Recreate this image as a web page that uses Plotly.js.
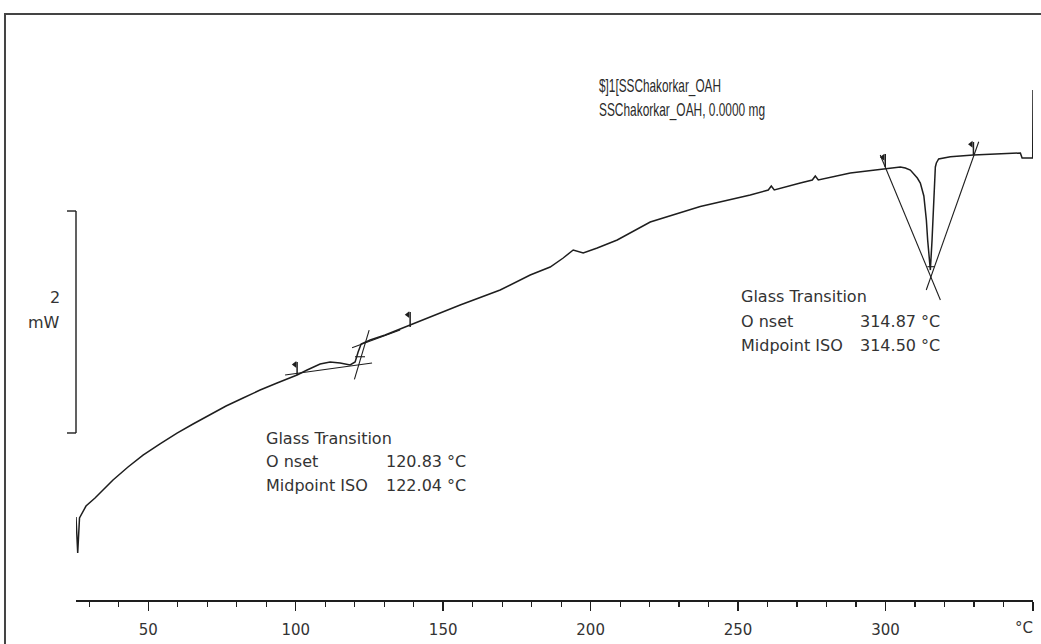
<!DOCTYPE html>
<html>
<head>
<meta charset="utf-8">
<script src="https://cdn.plot.ly/plotly-3.0.1.min.js"></script>
<style>html,body{margin:0;padding:0;background:#fff;}#chart{width:1041px;height:644px;}</style>
</head>
<body>
<div id="chart"></div>
<script>
// DSC curve: temperature (°C) and heat flow (mW, arbitrary offset)
const tempC = [25.5, 26.08, 26.69, 28.89, 31.95, 38.05, 43.14, 48.23, 53.99, 59.76, 65.19, 70.95, 76.38, 82.15, 87.92, 93.68, 100.47, 103.86, 108.27, 111.66, 115.05, 118.45, 120.14, 121.16, 122.18, 125.23, 130.32, 138.80, 147.28, 155.76, 169.33, 179.51, 186.29, 190.70, 194.09, 197.49, 202.24, 209.02, 220.21, 237.17, 254.13, 260.24, 261.26, 262.27, 271.09, 275.16, 276.18, 277.20, 288.05, 299.25, 305.02, 306.72, 308.40, 310.78, 311.80, 312.99, 313.84, 314.28, 314.96, 315.19, 315.77, 316.31, 316.89, 317.23, 318.01, 321.98, 329.78, 345.72, 346.30, 349.9, 350.0];
const heatFlow = [0.765, 0.433, 0.756, 0.866, 0.940, 1.106, 1.226, 1.336, 1.438, 1.539, 1.622, 1.705, 1.788, 1.862, 1.935, 2.000, 2.074, 2.120, 2.175, 2.194, 2.184, 2.166, 2.194, 2.286, 2.359, 2.396, 2.442, 2.535, 2.627, 2.719, 2.857, 2.995, 3.069, 3.152, 3.226, 3.198, 3.244, 3.318, 3.484, 3.627, 3.733, 3.779, 3.816, 3.779, 3.843, 3.871, 3.908, 3.871, 3.935, 3.972, 3.991, 3.982, 3.963, 3.889, 3.843, 3.724, 3.502, 3.318, 3.106, 3.041, 3.318, 3.714, 3.991, 4.028, 4.065, 4.086, 4.101, 4.120, 4.074, 4.074, 4.700];

// Glass transition 1 construction lines
const tg1BaseT = [96.4, 125.9],   tg1BaseV = [2.074, 2.184];
const tg1SteepT = [119.9, 124.9], tg1SteepV = [2.034, 2.488];
const tg1UpperT = [119.1, 135.4], tg1UpperV = [2.325, 2.488];
const tg1MidT = [120.1, 123.5],   tg1MidV = [2.242, 2.242];
// Glass transition 2 construction lines
const tg2LineAT = [298.2, 318.6], tg2LineAV = [4.101, 2.765];
const tg2LineBT = [331.6, 313.8], tg2LineBV = [4.224, 2.857];
const tg2MidT = [314.2, 316.6],   tg2MidV = [3.072, 3.072];
// Evaluation limit flags
const flagT = [99.7, 138.0, 299.1, 329.0];
const flagV = [2.17, 2.63, 4.08, 4.20];
const flagStemT = [100.47, 100.47, null, 138.8, 138.8, null, 299.9, 299.9, null, 329.8, 329.8];
const flagStemV = [2.194, 2.074, null, 2.654, 2.516, null, 4.11, 3.99, null, 4.221, 4.101];

// Axis ticks
const tickVals = [50, 100, 150, 200, 250, 300, 350];
const tickText = ['50', '100', '150', '200', '250', '300', ''];
const axisUnit = '°C';

// Texts
const headerLines = ['$]1[SSChakorkar_OAH', 'SSChakorkar_OAH, 0.0000 mg'];
const tg1Labels = ['Glass Transition', 'O nset', 'Midpoint ISO'];
const tg1Values = ['120.83 °C', '122.04 °C'];
const tg2Labels = ['Glass Transition', 'O nset', 'Midpoint ISO'];
const tg2Values = ['314.87 °C', '314.50 °C'];

const ink = '#1e1e1e';
function seg(x, y, w) { return {x: x, y: y, type: 'scatter', mode: 'lines', line: {color: ink, width: w || 1.1}, hoverinfo: 'skip'}; }

const traces = [
  {x: tempC, y: heatFlow, type: 'scatter', mode: 'lines', line: {color: ink, width: 1.5}},
  seg(tg1BaseT, tg1BaseV), seg(tg1SteepT, tg1SteepV), seg(tg1UpperT, tg1UpperV), seg(tg1MidT, tg1MidV),
  seg(tg2LineAT, tg2LineAV), seg(tg2LineBT, tg2LineBV), seg(tg2MidT, tg2MidV),
  seg(flagStemT, flagStemV, 1.5),
  {x: flagT, y: flagV, type: 'scatter', mode: 'markers', marker: {symbol: 'triangle-left', size: 6, color: ink}, cliponaxis: false}
];

const txtFont = {family: 'DejaVu Sans, Verdana, sans-serif', size: 16, color: '#333'};
const tickFont = {family: 'DejaVu Sans, Verdana, sans-serif', size: 15, color: '#333'};
const hdrFont = {family: 'Liberation Sans, Arial, sans-serif', size: 19, color: '#2a2a2a'};
const annotations = [];
function addText(text, x, y, anchor, font) {
  annotations.push({text: text, x: x, y: y, xref: 'x', yref: 'y', xanchor: anchor, yanchor: 'middle', showarrow: false, font: font, borderpad: 0});
}
addText(headerLines[0], 202.6, 4.737, 'left', hdrFont);
addText(headerLines[1], 202.6, 4.516, 'left', hdrFont);
addText(tg1Labels[0], 89.6, 1.493, 'left', txtFont);
addText(tg1Labels[1], 89.6, 1.272, 'left', txtFont);
addText(tg1Labels[2], 89.6, 1.051, 'left', txtFont);
addText(tg1Values[0], 158.1, 1.272, 'right', txtFont);
addText(tg1Values[1], 158.1, 1.051, 'right', txtFont);
addText(tg2Labels[0], 250.7, 2.793, 'left', txtFont);
addText(tg2Labels[1], 250.7, 2.571, 'left', txtFont);
addText(tg2Labels[2], 250.7, 2.350, 'left', txtFont);
addText(tg2Values[0], 318.9, 2.571, 'right', txtFont);
addText(tg2Values[1], 318.9, 2.350, 'right', txtFont);
// scale bar labels
annotations.push({text: '2', x: -0.015, y: 0.517, xref: 'paper', yref: 'paper', xanchor: 'right', yanchor: 'middle', showarrow: false, font: txtFont});
annotations.push({text: 'mW', x: -0.015, y: 0.474, xref: 'paper', yref: 'paper', xanchor: 'right', yanchor: 'middle', showarrow: false, font: txtFont});
// axis unit in place of the last tick label
annotations.push({text: axisUnit, x: 350, y: -0.047, xref: 'x', yref: 'paper', xanchor: 'right', yanchor: 'middle', xshift: 2, showarrow: false, font: tickFont});

const shapes = [
  // outer frame
  {type: 'rect', xref: 'paper', yref: 'paper', x0: -0.0742, x1: 1.03, y0: -0.2, y1: 1.0, line: {color: '#444', width: 2}},
  // 2 mW scale bar
  {type: 'line', xref: 'paper', yref: 'paper', x0: 0, x1: 0, y0: 0.285, y1: 0.6638, line: {color: ink, width: 1.4}},
  {type: 'line', xref: 'paper', yref: 'paper', x0: -0.0094, x1: 0, y0: 0.6638, y1: 0.6638, line: {color: ink, width: 1.4}},
  {type: 'line', xref: 'paper', yref: 'paper', x0: -0.0094, x1: 0, y0: 0.285, y1: 0.285, line: {color: ink, width: 1.4}}
];

const layout = {
  width: 1041, height: 644,
  margin: {l: 76, r: 8, t: 14, b: 44},
  paper_bgcolor: '#fff', plot_bgcolor: '#fff',
  showlegend: false,
  xaxis: {
    range: [25.5, 350], showgrid: false, zeroline: false,
    showline: true, linecolor: ink, linewidth: 1.5,
    ticks: 'outside', ticklen: 9, tickwidth: 1.5, tickcolor: ink,
    tickvals: tickVals, ticktext: tickText, ticklabelstandoff: 6,
    tickfont: tickFont,
    minor: {dtick: 10, tick0: 0, ticks: 'outside', ticklen: 5, tickwidth: 1.2, tickcolor: ink, showgrid: false}
  },
  yaxis: {range: [0, 5.401], visible: false, showgrid: false, zeroline: false},
  annotations: annotations,
  shapes: shapes
};

// header lines are set in a condensed face in the original: squeeze them to their measured widths
const headerWidths = {};
headerWidths[headerLines[0]] = 122;
headerWidths[headerLines[1]] = 166;

Plotly.newPlot('chart', traces, layout, {displayModeBar: false, staticPlot: true}).then(function () {
  document.querySelectorAll('.annotation-text').forEach(function (el) {
    const w = headerWidths[el.textContent];
    if (!w) return;
    const bb = el.getBBox();
    el.setAttribute('text-anchor', 'start');
    el.setAttribute('x', bb.x);
    el.setAttribute('textLength', w);
    el.setAttribute('lengthAdjust', 'spacingAndGlyphs');
  });
});
</script>
</body>
</html>
